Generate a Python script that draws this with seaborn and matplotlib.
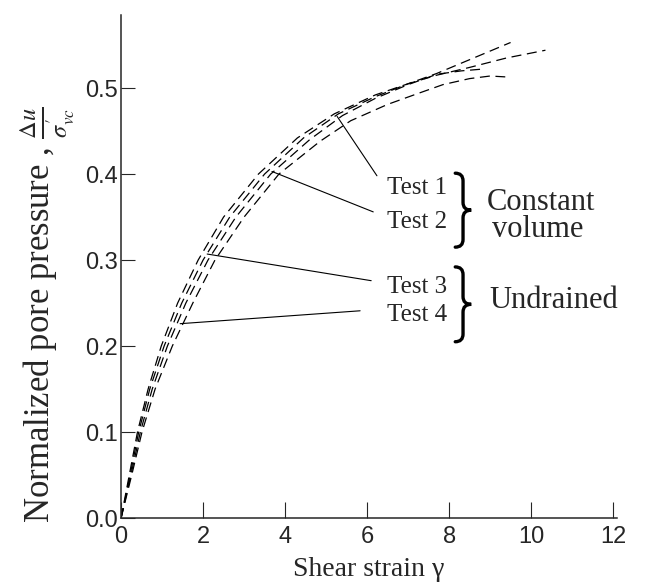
import matplotlib
matplotlib.use("Agg")
import matplotlib.pyplot as plt
from matplotlib.path import Path
from matplotlib.patches import PathPatch
import pandas as pd
import seaborn as sns

test1_x = [0, 0.2, 0.4, 0.66, 0.98, 1.38, 1.88, 2.5, 3.35, 4.3, 5.2, 6.2, 7.0, 7.7, 8.5, 9.5]
test1_y = [0, 0.05, 0.1, 0.15, 0.2, 0.25, 0.3, 0.35, 0.4, 0.442, 0.47, 0.492, 0.505, 0.517, 0.533, 0.553]
test2_x = [0, 0.22, 0.43, 0.7, 1.05, 1.48, 2.0, 2.65, 3.5, 4.45, 5.3, 6.2, 7.0, 7.7, 8.5, 9.4, 10.35]
test2_y = [0, 0.05, 0.1, 0.15, 0.2, 0.25, 0.3, 0.35, 0.4, 0.442, 0.47, 0.49, 0.505, 0.515, 0.524, 0.535, 0.544]
test3_x = [0, 0.24, 0.47, 0.76, 1.13, 1.58, 2.12, 2.8, 3.65, 4.6, 5.4, 6.2, 7.0, 7.7, 8.3, 8.8]
test3_y = [0, 0.05, 0.1, 0.15, 0.2, 0.25, 0.3, 0.35, 0.4, 0.44, 0.468, 0.488, 0.504, 0.516, 0.52, 0.522]
test4_x = [0, 0.26, 0.51, 0.83, 1.25, 1.75, 2.29, 3.0, 3.85, 4.85, 5.6, 6.5, 7.2, 7.85, 8.5, 9.0, 9.37]
test4_y = [0, 0.05, 0.1, 0.15, 0.2, 0.25, 0.3, 0.35, 0.4, 0.438, 0.462, 0.481, 0.493, 0.504, 0.511, 0.514, 0.513]

test_names = ["Test 1", "Test 2", "Test 3", "Test 4"]
leader_start = [(5.27, 0.467), (3.68, 0.403), (2.1, 0.307), (1.44, 0.226)]
leader_end = [(6.24, 0.398), (6.15, 0.356), (6.1, 0.276), (5.83, 0.241)]
label_pos = [(6.49, 0.384), (6.49, 0.344), (6.49, 0.269), (6.49, 0.236)]

xticks = [0, 2, 4, 6, 8, 10, 12]
yticks = [0.0, 0.1, 0.2, 0.3, 0.4, 0.5]

frames = []
for name, xs, ys in zip(test_names, [test1_x, test2_x, test3_x, test4_x],
                        [test1_y, test2_y, test3_y, test4_y]):
    frames.append(pd.DataFrame({"strain": xs, "pp": ys, "test": name}))
df = pd.concat(frames, ignore_index=True)

sns.set_style("ticks")
plt.rcParams["font.family"] = ["Liberation Serif", "DejaVu Serif"]
plt.rcParams["mathtext.fontset"] = "stix"

fig = plt.figure(figsize=(6.58, 5.87), dpi=100)
ax = fig.add_axes([0.184, 0.1175, 0.754, 0.857])

for name in test_names:
    sub = df[df["test"] == name]
    sns.lineplot(data=sub, x="strain", y="pp", ax=ax, color="black", lw=0.9,
                 sort=False, estimator=None)
for line in ax.get_lines():
    line.set_linestyle((0, (8, 4.5)))

for (x0, y0), (x1, y1) in zip(leader_start, leader_end):
    ax.plot([x0, x1], [y0, y1], color="black", lw=0.8)

for name, (tx, ty) in zip(test_names, label_pos):
    ax.text(tx, ty, name, ha="left", va="center", fontsize=18)


def brace(ax, x, y_top, y_bot):
    tip = 0.19
    point = 0.2
    r = 0.009
    ym = (y_top + y_bot) / 2
    verts = [(x - tip, y_top), (x, y_top), (x, y_top - r),
             (x, ym + r), (x, ym), (x + point, ym),
             (x, ym), (x, ym - r),
             (x, y_bot + r), (x, y_bot), (x - tip, y_bot)]
    codes = [Path.MOVETO, Path.CURVE3, Path.CURVE3,
             Path.LINETO, Path.CURVE3, Path.CURVE3,
             Path.CURVE3, Path.CURVE3,
             Path.LINETO, Path.CURVE3, Path.CURVE3]
    ax.add_patch(PathPatch(Path(verts, codes), fill=False, lw=2.4,
                           edgecolor="black", capstyle="round"))


brace(ax, 8.34, 0.401, 0.315)
brace(ax, 8.34, 0.292, 0.205)

ax.text(8.93, 0.367, "Constant", ha="left", va="center", fontsize=22)
ax.text(9.05, 0.335, "volume", ha="left", va="center", fontsize=22)
ax.text(8.98, 0.2535, "Undrained", ha="left", va="center", fontsize=22)

ax.set_xlim(0, 12.1)
ax.set_ylim(0, 0.585)
ax.set_xticks(xticks)
ax.set_yticks(yticks)
ax.set_xticklabels([str(t) for t in xticks], family="Liberation Sans", fontsize=17)
ax.set_yticklabels([f"{t:.1f}" for t in yticks], family="Liberation Sans", fontsize=17)
ax.tick_params(axis="y", direction="in", length=10, width=0.8, pad=2)
ax.tick_params(axis="x", direction="in", length=11.5, width=0.8, pad=6)
for s in ["top", "right"]:
    ax.spines[s].set_visible(False)
for s in ["left", "bottom"]:
    ax.spines[s].set_linewidth(1.1)

ax.set_xlabel("Shear strain γ", fontsize=20)
ax.set_ylabel(r"Normalized pore pressure , $\frac{\Delta u}{\sigma^{\prime}_{vc}}$", fontsize=25)
ax.yaxis.set_label_coords(-0.089, 0.405)
ax.xaxis.set_label_coords(0.5, -0.078)

fig.savefig("out.png", dpi=100)
